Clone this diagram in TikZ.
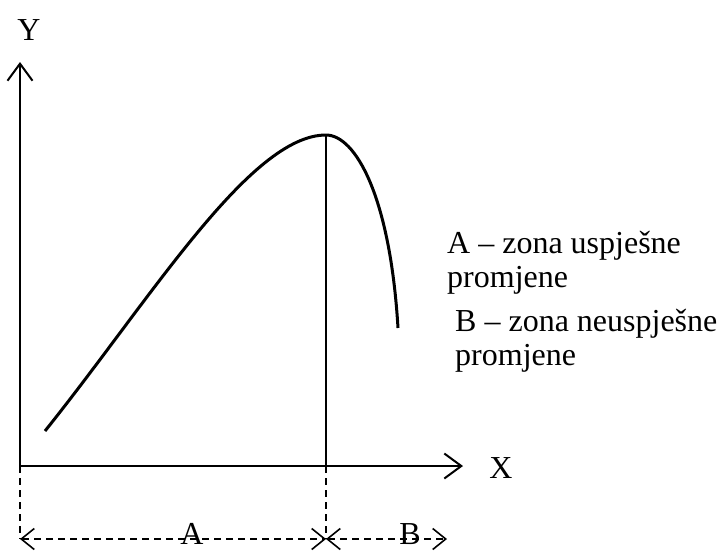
\documentclass[tikz,border=0pt]{standalone}
\usepackage{fontspec}
\setmainfont{Liberation Serif}
\usetikzlibrary{arrows.meta}
\begin{document}
\begin{tikzpicture}[x=1pt,y=-1pt,
  lbl/.style={font=\fontsize{32}{34}\selectfont, inner sep=0pt},
  axis/.style={line width=2pt, -{Straight Barb[length=17pt,width=25pt,line width=2pt]}},
  dim/.style={line width=1.5pt, dash pattern=on 7pt off 5pt, {Straight Barb[length=13pt,width=21pt,line width=1.6pt]}-{Straight Barb[length=13pt,width=21pt,line width=1.6pt]}},
  guide/.style={line width=1.5pt, dash pattern=on 7pt off 5pt}]
\useasboundingbox (0,0) rectangle (717,550);
\coordinate (O) at (20,466);
\coordinate (Ytip) at (20,62);
\coordinate (Xtip) at (463,466);
\coordinate (P) at (326,135);
\coordinate (Pb) at (326,466);
\coordinate (S) at (45,431);
\coordinate (E) at (398,328);
\coordinate (L) at (20,539);
\coordinate (M) at (326,539);
\coordinate (R) at (447,539);
\draw[axis] (O) -- (Ytip);
\draw[axis] (O) -- (Xtip);
\node[lbl] (ylab) at (29,30) {Y};
\node[lbl] (xlab) at (501,468) {X};
\draw[line width=3pt] (S) .. controls (150,300) and (250,135) .. (P)
  .. controls (355,135) and (390,195) .. (E);
\draw[line width=1.5pt] (P) -- (Pb);
\draw[guide] (O) -- (L);
\draw[guide] (Pb) -- (M);
\draw[dim] (L) -- (M);
\draw[dim] (M) -- (R);
\node[lbl] (alab) at (192,534) {A};
\node[lbl] (blab) at (410,534) {B};
\node[lbl, anchor=north west, align=left] (atext) at (447,231) {A -- zona uspješne\\promjene};
\node[lbl, anchor=north west, align=left] (btext) at (455,309) {B -- zona neuspješne\\promjene};
\end{tikzpicture}
\end{document}
